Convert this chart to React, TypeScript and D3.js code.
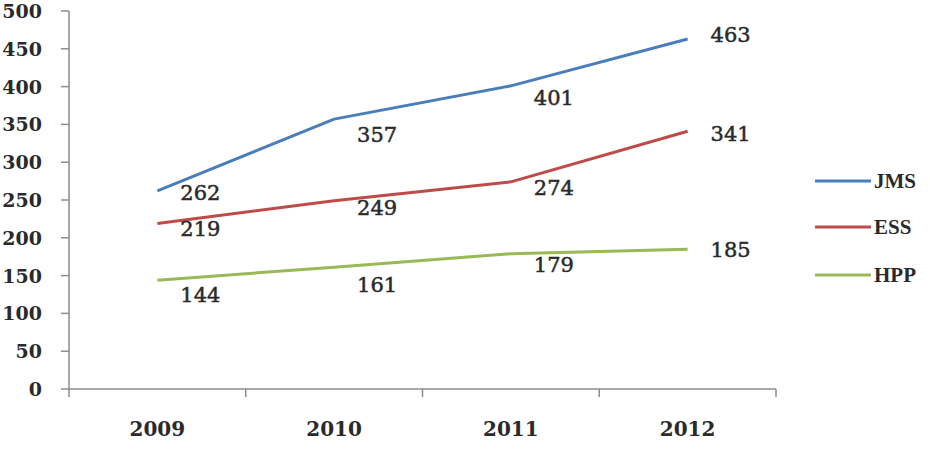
import React from "react";
import * as d3 from "d3";

const years = ["2009", "2010", "2011", "2012"];
const seriesNames = ["JMS", "ESS", "HPP"];
const jms = [262, 357, 401, 463];
const ess = [219, 249, 274, 341];
const hpp = [144, 161, 179, 185];
const yTicks = [0, 50, 100, 150, 200, 250, 300, 350, 400, 450, 500];

// label vertical offsets (px) relative to each point, per series
const jmsLabelDy = [2, 16, 12, -4];
const essLabelDy = [6, 7, 6, 3];
const hppLabelDy = [15, 18, 11, 1];

const colors = ["#4a7ebb", "#be4b48", "#98b954"];

const W = 930;
const H = 456;
const left = 69;
const right = 776;
const top = 11;
const bottom = 389;

export default function App() {
  const x = d3.scaleBand<string>().domain(years).range([left, right]).padding(0);
  const y = d3.scaleLinear().domain([0, 500]).range([bottom, top]);
  const cx = (yr: string) => (x(yr) as number) + x.bandwidth() / 2;

  const series = [
    { name: seriesNames[0], values: jms, dy: jmsLabelDy, color: colors[0] },
    { name: seriesNames[1], values: ess, dy: essLabelDy, color: colors[1] },
    { name: seriesNames[2], values: hpp, dy: hppLabelDy, color: colors[2] },
  ];

  const line = d3
    .line<number>()
    .x((_, i) => cx(years[i]))
    .y((d) => y(d));

  const axisColor = "#8c8c8c";
  const textColor = "#2a2a2a";
  const boundaries = years.map((yr) => x(yr) as number).concat([right]);

  return (
    <svg
      width={W}
      height={H}
      style={{ position: "absolute", left: 0, top: 0, background: "#fff" }}
      fontFamily="'DejaVu Serif', serif"
    >
      <rect x={0} y={0} width={W} height={H} fill="#fff" />
      {/* Y axis */}
      <line x1={left} x2={left} y1={top} y2={bottom} stroke={axisColor} strokeWidth={1.5} />
      {yTicks.map((t) => (
        <g key={t}>
          <line x1={left - 8} x2={left} y1={y(t)} y2={y(t)} stroke={axisColor} strokeWidth={1.5} />
          <text
            x={42}
            y={y(t)}
            textAnchor="end"
            dominantBaseline="central"
            fontSize={19}
            fontWeight="bold"
            fill={textColor}
          >
            {t}
          </text>
        </g>
      ))}
      {/* X axis */}
      <line x1={left} x2={right} y1={bottom} y2={bottom} stroke={axisColor} strokeWidth={1.5} />
      {boundaries.map((b, i) => (
        <line key={i} x1={b} x2={b} y1={bottom} y2={bottom + 8} stroke={axisColor} strokeWidth={1.5} />
      ))}
      {years.map((yr) => (
        <text
          key={yr}
          x={cx(yr)}
          y={429}
          textAnchor="middle"
          dominantBaseline="central"
          fontSize={20}
          fontWeight="bold"
          fill={textColor}
        >
          {yr}
        </text>
      ))}
      {/* Lines */}
      {series.map((s) => (
        <path
          key={s.name}
          d={line(s.values) || ""}
          fill="none"
          stroke={s.color}
          strokeWidth={3}
          strokeLinejoin="round"
        />
      ))}
      {/* Data labels */}
      {series.map((s) =>
        s.values.map((v, i) => (
          <text
            key={s.name + i}
            x={cx(years[i]) + 43}
            y={y(v) + s.dy[i]}
            textAnchor="middle"
            dominantBaseline="central"
            fontSize={21}
            fill={textColor}
            stroke={textColor}
            strokeWidth={0.5}
          >
            {v}
          </text>
        ))
      )}
      {/* Legend */}
      {series.map((s, i) => {
        const ly = [181, 227, 275][i];
        return (
          <g key={s.name}>
            <line x1={815} x2={871} y1={ly} y2={ly} stroke={s.color} strokeWidth={3} />
            <text
              x={874}
              y={ly}
              dominantBaseline="central"
              fontSize={21}
              fontWeight="bold"
              fontFamily="'Liberation Serif', serif"
              fill={textColor}
            >
              {s.name}
            </text>
          </g>
        );
      })}
    </svg>
  );
}
